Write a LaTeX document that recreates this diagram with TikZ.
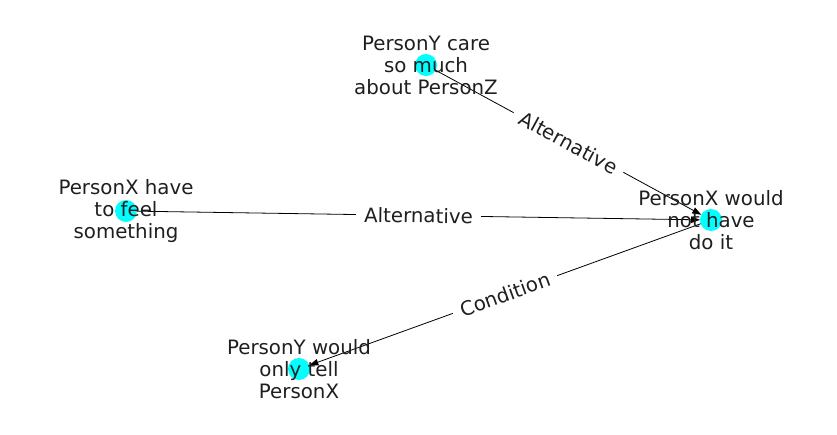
\documentclass[tikz,border=0pt]{standalone}
\usepackage{fontspec}
\setmainfont{DejaVu Sans}
\usetikzlibrary{arrows.meta}
\begin{document}
\begin{tikzpicture}[x=1pt,y=-1pt,
  dot/.style={circle,fill={rgb,255:red,0;green,255;blue,255},draw=none,minimum size=22pt,inner sep=0pt,outer sep=0pt},
  txt/.style={align=center,font=\fontsize{19.8}{22}\selectfont,text=black!88,inner sep=0pt},
  edge/.style={draw=black,line width=0.8pt,-{Triangle[length=9pt,width=6.5pt]}},
  elabel/.style={fill=white,inner xsep=8pt,inner ysep=3pt,font=\fontsize{19.8}{22}\selectfont,text=black!88,midway,sloped}]
\useasboundingbox (0,0) rectangle (837,434);
\node[dot] (a) at (426,65) {};
\node[dot] (b) at (126,211) {};
\node[dot] (c) at (711,220) {};
\node[dot] (d) at (299,369) {};
\draw[edge] (a) -- node[elabel]{Alternative} (c);
\draw[edge] (b) -- node[elabel]{Alternative} (c);
\draw[edge] (c) -- node[elabel]{Condition} (d);
\node[txt] (ta) at (426,65) {PersonY care\\so much\\about PersonZ};
\node[txt] (tb) at (126,211) {PersonX have\\to feel\\something};
\node[txt] (tc) at (711,220) {PersonX would\\not have\\do it};
\node[txt] (td) at (299,369) {PersonY would\\only tell\\PersonX};
\end{tikzpicture}
\end{document}
